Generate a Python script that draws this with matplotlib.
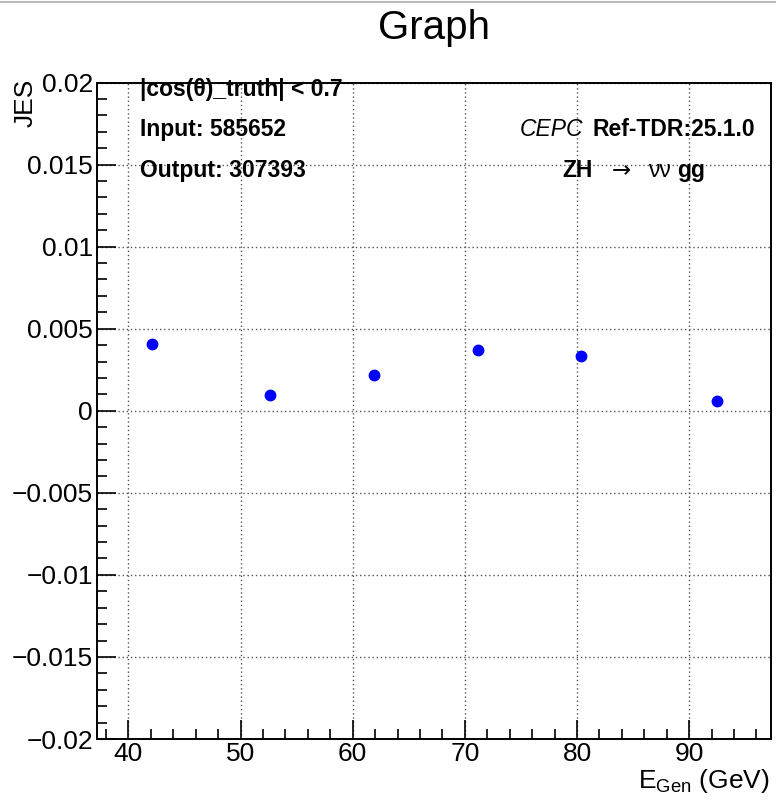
import matplotlib
matplotlib.use("Agg")
import matplotlib.pyplot as plt
from matplotlib.ticker import MultipleLocator, FuncFormatter
from matplotlib.lines import Line2D

plt.rcParams['font.family'] = ['Liberation Sans', 'DejaVu Sans']

# data
e_gen = [42.1, 52.6, 61.9, 71.2, 80.4, 92.5]
jes = [0.00405, 0.00097, 0.00217, 0.00373, 0.00332, 0.00061]
jes_err = [0.0002, 0.0002, 0.0002, 0.0003, 0.0002, 0.00015]

x_range = (37.2, 97.3)
y_range = (-0.02, 0.02)

fig = plt.figure(figsize=(7.76, 8.01), dpi=100)
ax = fig.add_axes([0.125, 0.0774, 0.8686, 0.8196])

ax.errorbar(e_gen, jes, yerr=jes_err, fmt='o', color='#0000ff', ms=7.5,
            elinewidth=2.2, capsize=0, zorder=3)

ax.set_xlim(*x_range)
ax.set_ylim(*y_range)

ax.xaxis.set_major_locator(MultipleLocator(10))
ax.xaxis.set_minor_locator(MultipleLocator(2))
ax.yaxis.set_major_locator(MultipleLocator(0.005))
ax.yaxis.set_minor_locator(MultipleLocator(0.001))
ax.yaxis.set_major_formatter(FuncFormatter(lambda v, p: ('%g' % round(v, 4)).replace('-', '\u2212')))

ax.tick_params(which='both', direction='in', top=False, right=False, width=1.2)
ax.tick_params(which='major', length=14, labelsize=19)
ax.tick_params(axis='y', which='major', pad=3)
ax.tick_params(axis='x', which='major', pad=2.5)
ax.tick_params(which='minor', length=7.5)
for s in ax.spines.values():
    s.set_linewidth(1.4)

ax.grid(True, which='major', color='#555555', linestyle=(0, (1, 2)), linewidth=1)
ax.set_axisbelow(True)

# axis titles placed like ROOT does (top / right aligned)
fig.text(26 / 776, 1 - 79 / 801, 'JES', fontsize=19, rotation=90,
         ha='center', va='top')
fig.text(770 / 776, 1 - 788 / 801, r'E$_{\mathregular{Gen}}$ (GeV)', fontsize=19,
         ha='right', va='baseline')

fig.text(0.5596, 0.965, 'Graph', fontsize=29, ha='center', va='center')

# annotations
fs = 16.5
ax.text(0.0638, 0.9897, '|cos(\u03b8)_truth| < 0.7', transform=ax.transAxes,
        fontsize=fs, fontweight='bold', va='center', ha='left')
ax.text(0.0638, 0.9287, 'Input: 585652', transform=ax.transAxes,
        fontsize=fs, fontweight='bold', va='center', ha='left')
ax.text(0.0638, 0.8660, 'Output: 307393', transform=ax.transAxes,
        fontsize=fs, fontweight='bold', va='center', ha='left')
ax.text(0.6277, 0.9287, 'CEPC', transform=ax.transAxes, fontsize=fs,
        fontstyle='italic', va='center', ha='left')
ax.text(0.7344, 0.9287, 'Ref-TDR:25.1.0', transform=ax.transAxes, fontsize=fs,
        fontweight='bold', va='center', ha='left')
ax.text(0.6899, 0.8660, 'ZH', transform=ax.transAxes, fontsize=fs,
        fontweight='bold', va='center', ha='left')
ax.text(0.7641, 0.8660, '\u2192', transform=ax.transAxes, fontsize=fs,
        family='DejaVu Sans', va='center', ha='left')
ax.text(0.8175, 0.8660, '\u03bd\u03bd', transform=ax.transAxes, fontsize=fs,
        va='center', ha='left')
ax.text(0.8605, 0.8660, 'gg', transform=ax.transAxes, fontsize=fs,
        fontweight='bold', va='center', ha='left')

fig.add_artist(Line2D([0, 1], [0.998, 0.998], color='#bbbbbb', lw=1.5))

fig.savefig('out.png', dpi=100)
